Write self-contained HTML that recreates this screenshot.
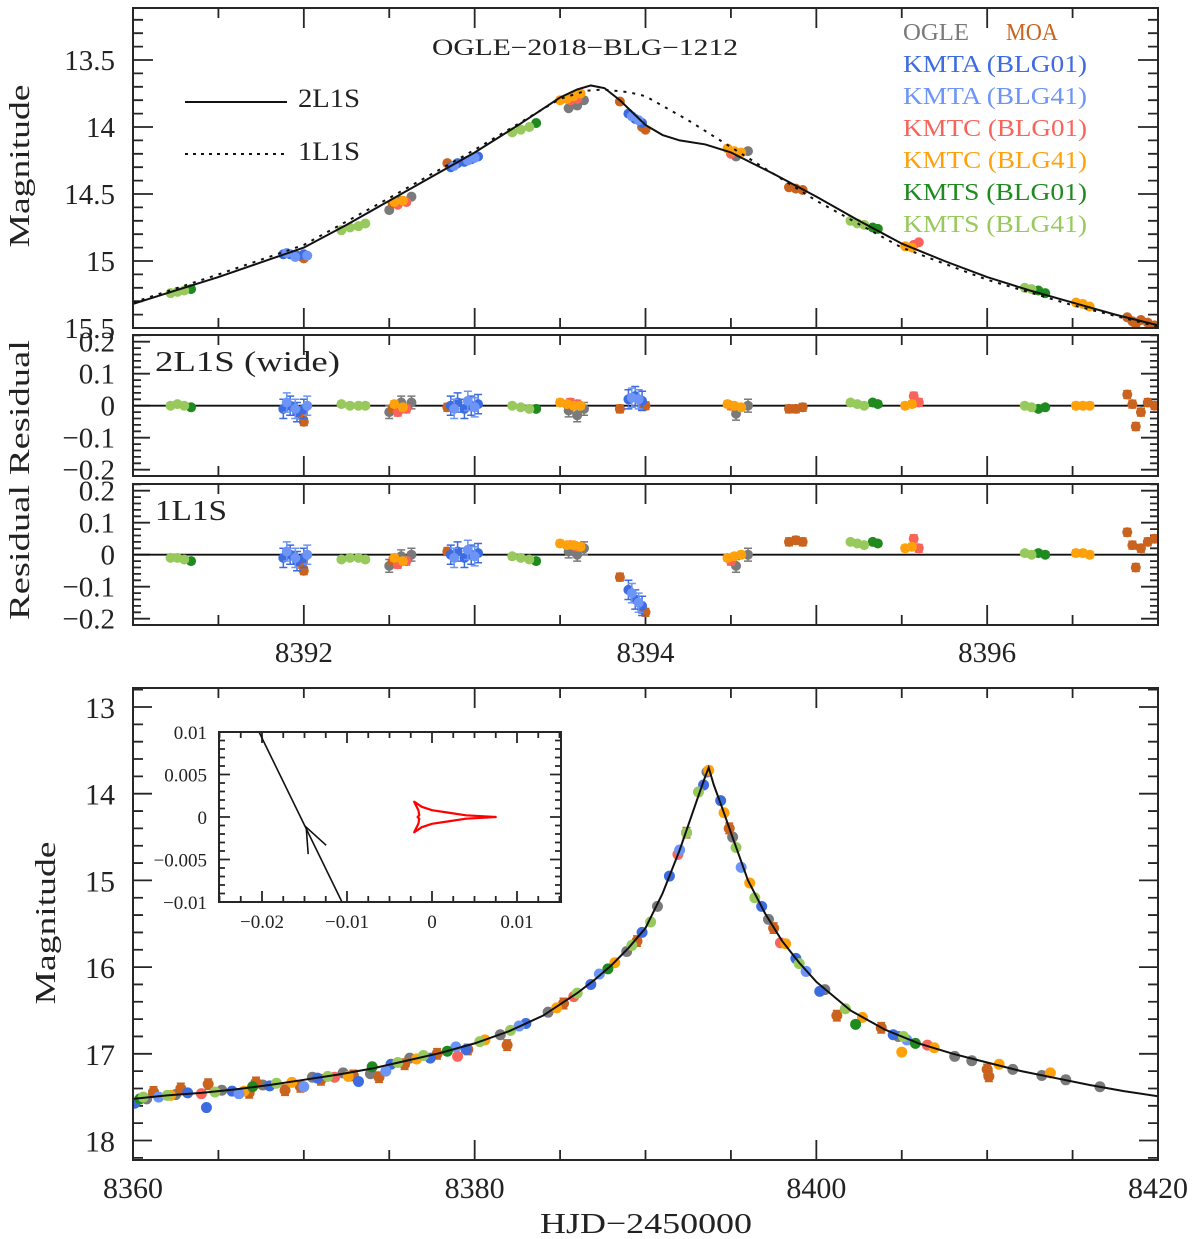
<!DOCTYPE html>
<html><head><meta charset="utf-8"><title>OGLE-2018-BLG-1212</title>
<style>
html,body{margin:0;padding:0;background:#fff;}
svg{display:block;font-family:"Liberation Serif",serif;}
</style></head>
<body>
<svg id="chart" width="1200" height="1239" viewBox="0 0 1200 1239" xmlns="http://www.w3.org/2000/svg">
<defs>
<clipPath id="clipTop"><rect x="133" y="8" width="1025" height="320"/></clipPath>
<clipPath id="clipR1"><rect x="133" y="335" width="1025" height="141"/></clipPath>
<clipPath id="clipR2"><rect x="133" y="484" width="1025" height="141"/></clipPath>
<clipPath id="clipBot"><rect x="133" y="688" width="1025" height="472"/></clipPath>
<clipPath id="clipIn"><rect x="219" y="732" width="342" height="170"/></clipPath>
</defs>
</svg>
<script>
// ---------- data ----------
const datasetNames = ["OGLE","MOA","KMTA01","KMTA41","KMTC01","KMTC41","KMTS01","KMTS41"];
const datasetLabels = ["OGLE","MOA","KMTA (BLG01)","KMTA (BLG41)","KMTC (BLG01)","KMTC (BLG41)","KMTS (BLG01)","KMTS (BLG41)"];
const datasetColors = ["#7a7a7a","#c9631e","#3d6be0","#6d95f7","#f9645a","#ffa10a","#1f8a1f","#98c95c"];
const residualErr = [0.02,0.012,0.03,0.03,0.012,0.01,0.008,0.008];
const bottomErr = [0.02,0.06,0.03,0.03,0.03,0.02,0.02,0.02];

// zoomed (top) panel: times, magnitudes, residuals (2L1S) and (1L1S)
const zoomT_OGLE = [8392.5,8392.57,8392.63,8393.55,8393.6,8393.64,8394.53,8394.6];
const zoomM_OGLE = [14.62,14.55,14.52,13.86,13.84,13.8,14.22,14.18];
const res2_OGLE = [-0.02,0.01,0.01,-0.015,-0.03,-0.01,-0.025,0.0];
const res1_OGLE = [-0.035,-0.005,0.0,0.01,0.0,0.02,-0.035,0.0];

const zoomT_MOA = [8391.99,8392.0,8392.52,8392.84,8393.85,8393.98,8394.0,8394.84,8394.88,8394.92,8396.82,8396.85,8396.87,8396.9,8396.94,8396.98];
const zoomM_MOA = [14.97,14.98,14.57,14.27,13.81,14.0,14.02,14.45,14.46,14.47,15.42,15.45,15.47,15.44,15.46,15.48];
const res2_MOA = [-0.03,-0.05,-0.01,-0.005,-0.01,0.0,0.0,-0.01,-0.01,-0.005,0.035,0.005,-0.065,-0.02,0.01,0.0];
const res1_MOA = [-0.03,-0.05,-0.02,0.01,-0.07,-0.17,-0.18,0.04,0.045,0.04,0.07,0.03,-0.04,0.02,0.04,0.05];

const zoomT_KMTA01 = [8391.88,8391.92,8391.96,8392.0,8392.86,8392.9,8392.94,8392.98,8393.02,8393.9,8393.94,8393.98];
const zoomM_KMTA01 = [14.95,14.95,14.96,14.95,14.3,14.27,14.26,14.24,14.22,13.9,13.94,13.97];
const res2_KMTA01 = [-0.01,0.0,-0.02,-0.01,0.0,0.01,-0.01,0.0,0.005,0.02,0.03,0.015];
const res1_KMTA01 = [-0.01,0.0,-0.02,-0.01,0.0,0.01,-0.01,0.0,0.005,-0.11,-0.14,-0.16];

const zoomT_KMTA41 = [8391.9,8391.95,8392.02,8392.88,8392.96,8393.0,8393.92,8393.96];
const zoomM_KMTA41 = [14.94,14.97,14.96,14.29,14.25,14.23,13.92,13.95];
const res2_KMTA41 = [0.01,-0.01,0.0,-0.01,0.015,-0.005,0.025,0.02];
const res1_KMTA41 = [0.01,-0.01,0.0,-0.01,0.015,-0.005,-0.12,-0.15];

const zoomT_KMTC01 = [8392.55,8392.6,8393.56,8393.6,8394.5,8395.57,8395.6];
const zoomM_KMTC01 = [14.58,14.56,13.8,13.79,14.2,14.88,14.86];
const res2_KMTC01 = [-0.02,-0.01,0.01,0.005,0.0,0.03,0.01];
const res1_KMTC01 = [-0.03,-0.02,0.03,0.025,-0.02,0.05,0.02];

const zoomT_KMTC41 = [8392.53,8392.58,8393.5,8393.54,8393.58,8393.62,8394.48,8394.52,8394.56,8395.52,8395.56,8396.52,8396.56,8396.6];
const zoomM_KMTC41 = [14.56,14.55,13.8,13.79,13.77,13.75,14.16,14.18,14.19,14.89,14.9,15.31,15.32,15.34];
const res2_KMTC41 = [0.005,-0.005,0.01,0.005,0.0,0.0,0.005,0.0,-0.005,0.0,0.005,0.0,0.0,0.0];
const res1_KMTC41 = [-0.01,-0.02,0.035,0.03,0.03,0.025,-0.01,-0.005,0.0,0.02,0.025,0.005,0.005,0.0];

const zoomT_KMTS01 = [8391.34,8393.36,8395.33,8395.36,8396.3,8396.34];
const zoomM_KMTS01 = [15.21,13.97,14.75,14.76,15.22,15.24];
const res2_KMTS01 = [-0.005,-0.01,0.01,0.005,-0.01,-0.005];
const res1_KMTS01 = [-0.02,-0.02,0.04,0.035,0.005,0.0];

const zoomT_KMTS41 = [8391.22,8391.26,8391.3,8392.22,8392.27,8392.32,8392.36,8393.22,8393.27,8393.32,8395.2,8395.24,8395.28,8396.22,8396.26];
const zoomM_KMTS41 = [15.24,15.23,15.22,14.77,14.75,14.74,14.72,14.04,14.02,14.0,14.7,14.72,14.73,15.2,15.21];
const res2_KMTS41 = [0.0,0.005,0.0,0.005,0.0,0.0,0.0,0.0,-0.005,-0.01,0.01,0.005,0.0,0.0,-0.005];
const res1_KMTS41 = [-0.01,-0.01,-0.015,-0.015,-0.01,-0.01,-0.015,-0.005,-0.01,-0.015,0.04,0.035,0.03,0.005,0.0];

// models in zoomed panel
const model2T = [8391.0,8391.25,8391.5,8391.75,8392.0,8392.25,8392.5,8392.75,8393.0,8393.25,8393.5,8393.6,8393.68,8393.76,8393.85,8394.0,8394.1,8394.2,8394.35,8394.5,8394.75,8395.0,8395.25,8395.5,8395.75,8396.0,8396.25,8396.5,8396.75,8397.0];
const model2M = [15.32,15.22,15.12,15.01,14.9,14.73,14.55,14.37,14.19,13.99,13.78,13.72,13.69,13.71,13.8,13.985,14.06,14.1,14.13,14.19,14.35,14.52,14.7,14.87,15.0,15.12,15.22,15.31,15.4,15.48];
const model1T = [8391.0,8391.5,8392.0,8392.5,8393.0,8393.25,8393.5,8393.65,8393.75,8393.9,8394.0,8394.25,8394.5,8394.75,8395.0,8395.5,8396.0,8396.5,8397.0];
const model1M = [15.31,15.1,14.88,14.53,14.17,13.98,13.79,13.73,13.72,13.74,13.77,13.95,14.15,14.35,14.55,14.9,15.14,15.33,15.49];

// full light curve (bottom panel)
const fullT_OGLE = [8360.8,8362.5,8365.2,8367.6,8370.5,8372.3,8373.9,8376.2,8381.5,8384.3,8388.9,8390.7,8393.6,8395.1,8397.2,8400.5,8404.8,8408.1,8409.1,8411.5,8413.2,8414.6,8416.6];
const fullM_OGLE = [17.52,17.47,17.42,17.36,17.27,17.22,17.23,17.05,16.78,16.52,15.82,15.3,13.75,14.5,15.45,16.26,16.8,17.03,17.08,17.18,17.25,17.3,17.38];
const fullT_MOA = [8361.2,8362.8,8364.4,8366.8,8367.2,8368.9,8369.8,8371.0,8372.9,8374.4,8375.9,8377.8,8379.6,8381.9,8385.2,8389.5,8392.4,8394.9,8397.5,8401.2,8403.8,8410.0,8410.1];
const fullM_MOA = [17.44,17.40,17.35,17.45,17.33,17.42,17.38,17.30,17.25,17.27,17.12,17.0,16.95,16.9,16.42,15.7,14.45,14.4,15.55,16.56,16.7,17.18,17.26];
const fullT_KMTA01 = [8360.1,8363.2,8364.3,8365.8,8368.0,8370.8,8373.2,8375.1,8377.4,8379.5,8383.0,8386.8,8389.8,8391.4,8393.4,8394.4,8396.8,8398.8,8400.2,8404.5];
const fullM_KMTA01 = [17.57,17.45,17.62,17.43,17.37,17.28,17.32,17.12,17.05,16.95,16.65,16.2,15.6,14.95,13.9,14.08,15.3,15.9,16.28,16.78];
const fullT_KMTA41 = [8361.5,8366.2,8370.0,8374.8,8378.9,8382.6,8387.3,8392.0,8395.6,8399.4,8405.3];
const fullM_KMTA41 = [17.5,17.46,17.38,17.2,16.92,16.68,16.08,14.65,14.85,16.05,16.84];
const fullT_KMTC01 = [8364.0,8371.8,8379.0,8385.8,8391.9,8397.9,8406.5];
const fullM_KMTC01 = [17.46,17.27,17.03,16.34,14.7,15.72,16.9];
const fullT_KMTC41 = [8362.2,8366.5,8369.3,8372.6,8376.6,8380.6,8384.8,8388.2,8393.7,8394.6,8396.1,8398.2,8402.7,8405.0,8406.9,8410.7,8413.7];
const fullM_KMTC41 = [17.48,17.43,17.33,17.26,17.06,16.84,16.47,15.95,13.73,14.22,15.03,15.73,16.58,16.98,16.93,17.12,17.22];
const fullT_KMTS01 = [8360.4,8367.0,8374.0,8378.4,8387.8,8402.3,8405.8];
const fullM_KMTS01 = [17.52,17.38,17.15,16.97,16.02,16.66,16.88];
const fullT_KMTS41 = [8360.6,8362.0,8364.8,8368.4,8371.4,8375.5,8377.0,8380.3,8382.1,8386.0,8389.2,8390.3,8392.4,8393.1,8395.3,8396.4,8399.0,8401.7,8405.1];
const fullM_KMTS41 = [17.5,17.48,17.44,17.34,17.26,17.1,17.02,16.86,16.73,16.3,15.75,15.48,14.45,13.98,14.62,15.2,15.96,16.48,16.8];

const modelFullT = [8360,8362,8364,8366,8368,8370,8372,8374,8376,8378,8380,8382,8384,8386,8387,8388,8389,8390,8391,8392,8393,8393.5,8393.7,8394,8394.5,8395,8396,8397,8398,8399,8400,8402,8404,8406,8408,8410,8412,8414,8416,8418,8420];
const modelFullM = [17.52,17.48,17.45,17.41,17.36,17.30,17.24,17.17,17.08,16.99,16.88,16.74,16.56,16.30,16.15,15.98,15.78,15.55,15.15,14.65,14.08,13.8,13.7,13.9,14.17,14.45,15.0,15.38,15.7,15.95,16.17,16.5,16.72,16.88,17.0,17.1,17.2,17.28,17.36,17.43,17.49];

// inset: source trajectory and caustic
const trajX = [-0.02035,-0.01059];
const trajY = [0.01,-0.01];
const arrowX = [-0.0148];
const arrowY = [-0.0012];
const causticX = [-0.0021,-0.0012,0.0,0.002,0.004,0.0075,0.004,0.002,0.0,-0.0012,-0.0021,-0.0016,-0.0015,-0.0017,-0.0015,-0.0016,-0.0021];
const causticY = [0.0018,0.0012,0.0008,0.0005,0.0002,0.0,-0.0002,-0.0005,-0.0008,-0.0012,-0.0018,-0.0008,-0.0002,0.0,0.0002,0.0008,0.0018];

// tick labels
const topYTicks = ["13.5","14","14.5","15","15.5"];
const topYVals = [13.5,14,14.5,15,15.5];
const resYTicks = ["0.2","0.1","0","\u22120.1","\u22120.2"];
const resYVals = [0.2,0.1,0,-0.1,-0.2];
const topXTicks = ["8392","8394","8396"];
const topXVals = [8392,8394,8396];
const botYTicks = ["13","14","15","16","17","18"];
const botYVals = [13,14,15,16,17,18];
const botXTicks = ["8360","8380","8400","8420"];
const botXVals = [8360,8380,8400,8420];
const inXTicks = ["\u22120.02","\u22120.01","0","0.01"];
const inXVals = [-0.02,-0.01,0,0.01];
const inYTicks = ["0.01","0.005","0","\u22120.005","\u22120.01"];
const inYVals = [0.01,0.005,0,-0.005,-0.01];

// ---------- scales ----------
const xT = t => 133 + (t - 8391) * 1025 / 6;
const yT = m => 60 + (m - 13.5) * 134;
const yR1 = r => 405.7 - r * 320;
const yR2 = r => 554.7 - r * 320;
const xB = t => 133 + (t - 8360) * 1025 / 60;
const yB = m => 707 + (m - 13) * 86.7;
const xI = v => 432 + v * 8500;
const yI = v => 817 - v * 8500;

const NS = "http://www.w3.org/2000/svg";
const svg = document.getElementById("chart");
function mk(parent, tag, attrs, text) {
  const e = document.createElementNS(NS, tag);
  for (const k in attrs) e.setAttribute(k, attrs[k]);
  if (text !== undefined) e.textContent = text;
  parent.appendChild(e);
  return e;
}
function grp(parent, clip) {
  const g = mk(parent, "g", clip ? {"clip-path": "url(#" + clip + ")"} : {});
  return g;
}
const AX = "#262626";

function ticks(g, x0, x1, y0, y1, xs, ys) {
  // xs: [value px, len], ys likewise
  let d = "";
  xs.forEach(([px, len]) => { d += `M${px} ${y1}v${-len}M${px} ${y0}v${len}`; });
  ys.forEach(([py, len]) => { d += `M${x0} ${py}h${len}M${x1} ${py}h${-len}`; });
  mk(g, "path", {d: d, stroke: AX, "stroke-width": 1.8, fill: "none"});
}
function frame(x, y, w, h, name) {
  const r = mk(svg, "rect", {x: x, y: y, width: w, height: h, fill: "none", stroke: AX, "stroke-width": 2});
  
  
}
function label(x, y, txt, size, anchor, name, extra) {
  const attrs = {x: x, y: y, "font-size": size, "text-anchor": anchor || "middle", fill: "#222"};
  if (extra) for (const k in extra) attrs[k] = extra[k];
  const t = mk(svg, "text", attrs, txt);
  
  
  return t;
}
function pathFrom(xs, ys, fx, fy) {
  return xs.map((v, i) => (i ? "L" : "M") + fx(v).toFixed(2) + " " + fy(ys[i]).toFixed(2)).join("");
}

// ---------- top panel ----------
const topTicksX = [];
for (let t = 8391; t <= 8397.001; t += 0.5) topTicksX.push([xT(t), Math.abs(t - Math.round(t)) < 1e-6 ? 20 : 10]);
const topTicksY = [];
for (let i = 0; i <= 23; i++) { const m = 13.2 + i * 0.1; if (m <= 15.5001) topTicksY.push([yT(m), Math.abs(m * 2 - Math.round(m * 2)) < 1e-6 ? 20 : 10]); }
const gTopTicks = grp(svg);


ticks(gTopTicks, 133, 1158, 8, 328, topTicksX, topTicksY);

const gTopPts = grp(svg, "clipTop");


const zoomSets = [
  [zoomT_OGLE, zoomM_OGLE, res2_OGLE, res1_OGLE],
  [zoomT_MOA, zoomM_MOA, res2_MOA, res1_MOA],
  [zoomT_KMTA01, zoomM_KMTA01, res2_KMTA01, res1_KMTA01],
  [zoomT_KMTA41, zoomM_KMTA41, res2_KMTA41, res1_KMTA41],
  [zoomT_KMTC01, zoomM_KMTC01, res2_KMTC01, res1_KMTC01],
  [zoomT_KMTC41, zoomM_KMTC41, res2_KMTC41, res1_KMTC41],
  [zoomT_KMTS01, zoomM_KMTS01, res2_KMTS01, res1_KMTS01],
  [zoomT_KMTS41, zoomM_KMTS41, res2_KMTS41, res1_KMTS41]
];
const drawOrder = [0,1,4,5,2,3,6,7];
drawOrder.forEach(k => {
  const [T, M] = zoomSets[k];
  T.forEach((t, i) => {
    const c = mk(gTopPts, "circle", {cx: xT(t), cy: yT(M[i]), r: 5, fill: datasetColors[k]});
    
    
  });
});
const gTopModel = grp(svg, "clipTop");


const l1 = mk(gTopModel, "path", {d: pathFrom(model1T, model1M, xT, yT), fill: "none", stroke: "#111", "stroke-width": 2, "stroke-dasharray": "3 6"});


const l2 = mk(gTopModel, "path", {d: pathFrom(model2T, model2M, xT, yT), fill: "none", stroke: "#111", "stroke-width": 2});


frame(133, 8, 1025, 320, "top-panel-frame");

topYTicks.forEach((s, i) => label(115, yT(topYVals[i]) + 10, s, 29, "end", "top-y-tick-label"));
label(0, 0, "Magnitude", 29, "middle", "top-y-axis-title", {transform: "translate(29,166) rotate(-90)", textLength: 163, lengthAdjust: "spacingAndGlyphs"});
label(585, 55, "OGLE\u22122018\u2212BLG\u22121212", 23, "middle", "chart-title", {textLength: 306, lengthAdjust: "spacingAndGlyphs"});

// model legend
const lg1 = mk(svg, "line", {x1: 185, y1: 102, x2: 287, y2: 102, stroke: "#111", "stroke-width": 2});


label(298, 107, "2L1S", 26, "start", "legend-2l1s-label", {textLength: 62, lengthAdjust: "spacingAndGlyphs"});
const lg2 = mk(svg, "line", {x1: 185, y1: 154, x2: 284, y2: 154, stroke: "#111", "stroke-width": 2, "stroke-dasharray": "3 5"});


label(298, 160, "1L1S", 26, "start", "legend-1l1s-label", {textLength: 62, lengthAdjust: "spacingAndGlyphs"});

// dataset legend
const legOGLE = label(903, 40, "OGLE", 24, "start", "legend-entry-ogle", {fill: datasetColors[0], textLength: 66, lengthAdjust: "spacingAndGlyphs"});
const legMOA = label(1006, 40, "MOA", 24, "start", "legend-entry-moa", {fill: datasetColors[1], textLength: 52, lengthAdjust: "spacingAndGlyphs"});
for (let k = 2; k < 8; k++) {
  label(903, 72 + (k - 2) * 32, datasetLabels[k], 24, "start", "legend-entry-" + datasetNames[k].toLowerCase(), {fill: datasetColors[k], textLength: 184, lengthAdjust: "spacingAndGlyphs"});
}

// ---------- residual panels ----------
function residualPanel(yTop, yFn, clip, resIdx, name, tag) {
  const tx = [];
  for (let t = 8391; t <= 8397.001; t += 0.5) tx.push([xT(t), Math.abs(t - Math.round(t)) < 1e-6 ? 20 : 10]);
  const ty = [];
  for (let i = -11; i <= 11; i++) { const r = i * 0.02; ty.push([yFn(r), (i % 5 === 0) ? 17 : 8]); }
  const g = grp(svg);
  
  
  ticks(g, 133, 1158, yTop, yTop + 141, tx, ty);
  const gp = grp(svg, clip);
  
  
  const z = mk(gp, "line", {x1: 133, x2: 1158, y1: yFn(0), y2: yFn(0), stroke: "#111", "stroke-width": 1.8});
  
  
  drawOrder.forEach(k => {
    const T = zoomSets[k][0], R = zoomSets[k][resIdx];
    T.forEach((t, i) => {
      const x = xT(t), y = yFn(R[i]), e = residualErr[k] * 320;
      const eb = mk(gp, "path", {d: `M${x} ${y - e}V${y + e}M${x - 4} ${y - e}h8M${x - 4} ${y + e}h8`, stroke: datasetColors[k], "stroke-width": 1.5, fill: "none"});
      
      
      const c = mk(gp, "circle", {cx: x, cy: y, r: 5, fill: datasetColors[k]});
      
      
    });
  });
  frame(133, yTop, 1025, 141, name + "-frame");
  resYTicks.forEach((s, i) => label(115, yFn(resYVals[i]) + 10, s, 29, "end", name + "-y-tick-label"));
  label(155, yTop + (tag === "1L1S" ? 36 : 36), tag, 28, "start", name + "-model-label", {textLength: tag === "1L1S" ? 72 : 185, lengthAdjust: "spacingAndGlyphs"});
}
residualPanel(335, yR1, "clipR1", 2, "residual-2l1s-panel", "2L1S (wide)");
residualPanel(484, yR2, "clipR2", 3, "residual-1l1s-panel", "1L1S");
label(0, 0, "Residual  Residual", 29, "middle", "residual-y-axis-title", {transform: "translate(29,480) rotate(-90)", textLength: 280, lengthAdjust: "spacingAndGlyphs"});
topXTicks.forEach((s, i) => label(xT(topXVals[i]), 662, s, 29, "middle", "top-x-tick-label"));

// ---------- bottom panel ----------
const bx = [];
for (let t = 8360; t <= 8420; t += 5) bx.push([xB(t), t % 20 === 0 ? 20 : 10]);
const by = [];
for (let i = 0; i <= 27; i++) { const m = 12.8 + i * 0.2; if (m <= 18.21) by.push([yB(m), Math.abs(m - Math.round(m)) < 1e-6 ? 19 : 10]); }
const gBT = grp(svg);


ticks(gBT, 133, 1158, 688, 1160, bx, by);

const fullSets = [
  [fullT_OGLE, fullM_OGLE],[fullT_MOA, fullM_MOA],[fullT_KMTA01, fullM_KMTA01],[fullT_KMTA41, fullM_KMTA41],
  [fullT_KMTC01, fullM_KMTC01],[fullT_KMTC41, fullM_KMTC41],[fullT_KMTS01, fullM_KMTS01],[fullT_KMTS41, fullM_KMTS41]
];
const gBP = grp(svg, "clipBot");


drawOrder.forEach(k => {
  const [T, M] = fullSets[k];
  T.forEach((t, i) => {
    const x = xB(t), y = yB(M[i]), e = bottomErr[k] * 86.7;
    const eb = mk(gBP, "path", {d: `M${x} ${y - e}V${y + e}M${x - 4} ${y - e}h8M${x - 4} ${y + e}h8`, stroke: datasetColors[k], "stroke-width": 1.5, fill: "none"});
    
    
    const c = mk(gBP, "circle", {cx: x, cy: y, r: 5.5, fill: datasetColors[k]});
    
    
  });
});
const gBM = grp(svg, "clipBot");


const lb = mk(gBM, "path", {d: pathFrom(modelFullT, modelFullM, xB, yB), fill: "none", stroke: "#111", "stroke-width": 2});


frame(133, 688, 1025, 472, "bottom-panel-frame");
botYTicks.forEach((s, i) => label(115, yB(botYVals[i]) + 11, s, 30, "end", "bottom-y-tick-label"));
botXTicks.forEach((s, i) => label(xB(botXVals[i]), 1198, s, 30, "middle", "bottom-x-tick-label"));
label(0, 0, "Magnitude", 29, "middle", "bottom-y-axis-title", {transform: "translate(55,923) rotate(-90)", textLength: 163, lengthAdjust: "spacingAndGlyphs"});
label(646, 1233, "HJD\u22122450000", 29, "middle", "x-axis-title", {textLength: 212, lengthAdjust: "spacingAndGlyphs"});

// ---------- inset ----------
const bg = mk(svg, "rect", {x: 219, y: 732, width: 342, height: 170, fill: "#fff"});


const ix = [];
for (let i = -10; i <= 6; i++) { const v = i * 0.0025; ix.push([xI(v), i % 4 === 0 ? 11 : 6]); }
const iy = [];
for (let i = -10; i <= 10; i++) { const v = i * 0.001; iy.push([yI(v), i % 5 === 0 ? 11 : 6]); }
const gIT = grp(svg);


ticks(gIT, 219, 561, 732, 902, ix, iy);
const gI = grp(svg, "clipIn");


const tr = mk(gI, "path", {d: pathFrom(trajX, trajY, xI, yI), stroke: "#111", "stroke-width": 1.6, fill: "none"});


{
  const ax = xI(arrowX[0]), ay = yI(arrowY[0]);
  const dx = xI(trajX[0]) - xI(trajX[1]), dy = yI(trajY[0]) - yI(trajY[1]);
  const L = Math.hypot(dx, dy), ux = dx / L, uy = dy / L;
  const ang = 0.38, len = 27;
  const w1x = ax - len * (ux * Math.cos(ang) - uy * Math.sin(ang)), w1y = ay - len * (uy * Math.cos(ang) + ux * Math.sin(ang));
  const w2x = ax - len * (ux * Math.cos(-ang) - uy * Math.sin(-ang)), w2y = ay - len * (uy * Math.cos(-ang) + ux * Math.sin(-ang));
  const ar = mk(gI, "path", {d: `M${w1x} ${w1y}L${ax} ${ay}L${w2x} ${w2y}`, stroke: "#111", "stroke-width": 1.6, fill: "none"});
  
  
}
const cs = mk(gI, "path", {d: pathFrom(causticX, causticY, xI, yI) + "Z", stroke: "#ff0000", "stroke-width": 2.2, fill: "none", "stroke-linejoin": "round"});


frame(219, 732, 342, 170, "inset-frame");
inXTicks.forEach((s, i) => label(xI(inXVals[i]), 928, s, 19, "middle", "inset-x-tick-label"));
inYTicks.forEach((s, i) => label(207, yI(inYVals[i]) + 7, s, 19, "end", "inset-y-tick-label"));
</script>
</body></html>
